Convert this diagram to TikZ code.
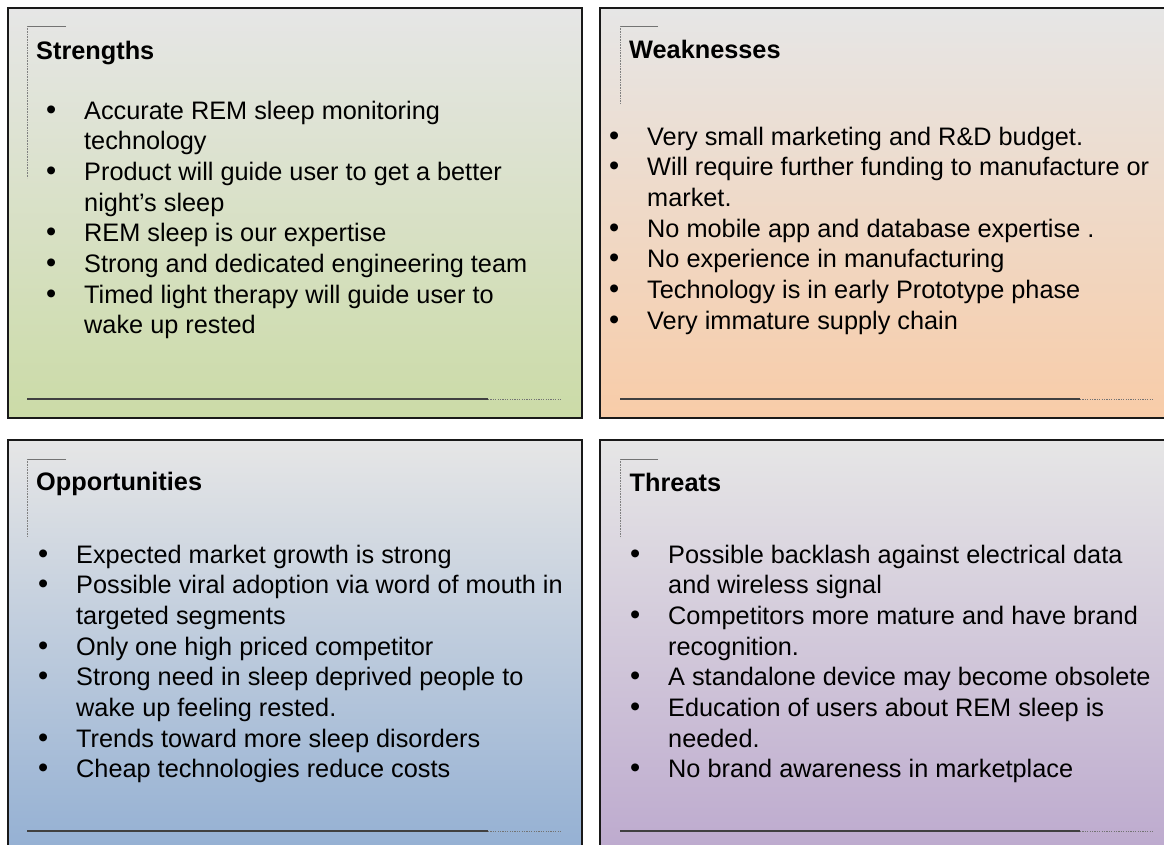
\documentclass[tikz,border=0pt]{standalone}
\usepackage{fontspec}
\setmainfont{Liberation Sans}
\usepackage{tikz}
\definecolor{swotgray}{RGB}{230,230,230}
\definecolor{swotgreen}{RGB}{203,219,167}
\definecolor{swotorange}{RGB}{248,204,168}
\definecolor{swotblue}{RGB}{148,176,211}
\definecolor{swotpurple}{RGB}{189,170,206}
\newcommand{\swotfont}{\fontsize{25.3}{30.7}\selectfont}
\newcommand{\bul}[1]{\begin{tabular}[t]{@{}p{38pt}@{}l@{}}{\fontsize{29}{30.7}\selectfont\textbullet} & #1\end{tabular}}
\tikzstyle{panel} = [draw=black!90, line width=1.4pt, top color=swotgray]
\tikzstyle{heading} = [anchor=base west, inner sep=0pt, font=\swotfont\bfseries]
\tikzstyle{entry} = [anchor=base west, inner sep=0pt, font=\swotfont]
\tikzstyle{bracket} = [draw=black!55, line width=1pt]
\tikzstyle{bracketdots} = [draw=gray, line width=0.8pt, dash pattern=on 0.8pt off 0.8pt]
\tikzstyle{footrule} = [draw=black!75, line width=1.3pt]
\tikzstyle{footdots} = [draw=black!55, line width=1pt, dash pattern=on 1.2pt off 1.2pt]

\begin{document}
\begin{tikzpicture}[x=1pt, y=-1pt]
    \clip (0,0) rectangle (1164,844);

    % Panels
    \draw [panel, bottom color=swotgreen] (8,8) rectangle (582,418);
    \draw [panel, bottom color=swotorange] (600,8) rectangle (1172,418);
    \draw [panel, bottom color=swotblue] (8,440) rectangle (582,852);
    \draw [panel, bottom color=swotpurple] (600,440) rectangle (1172,852);

    % Corner marks
    \draw [bracket] (66,26) -- (27,26);
    \draw [bracketdots] (27,26) -- (27,178);
    \draw [bracket] (658,26) -- (620,26);
    \draw [bracketdots] (620,26) -- (620,103);
    \draw [bracket] (66,459) -- (27,459);
    \draw [bracketdots] (27,459) -- (27,537);
    \draw [bracket] (658,459) -- (620,459);
    \draw [bracketdots] (620,459) -- (620,537);

    % Foot rules
    \draw [footrule] (27,399) -- (488,399);
    \draw [footdots] (488,399) -- (562,399);
    \draw [footrule] (620,399) -- (1080,399);
    \draw [footdots] (1080,399) -- (1154,399);
    \draw [footrule] (27,831) -- (488,831);
    \draw [footdots] (488,831) -- (562,831);
    \draw [footrule] (620,831) -- (1080,831);
    \draw [footdots] (1080,831) -- (1154,831);

    % Strengths
    \node (str) at (36,59) [heading] {Strengths};
    \node (str1) at (46,119) [entry] {\bul{Accurate REM sleep monitoring\\ & technology}};
    \node (str2) at (46,180.4) [entry] {\bul{Product will guide user to get a better\\ & night’s sleep}};
    \node (str3) at (46,241.8) [entry] {\bul{REM sleep is our expertise}};
    \node (str4) at (46,272.5) [entry] {\bul{Strong and dedicated engineering team}};
    \node (str5) at (46,303.2) [entry] {\bul{Timed light therapy will guide user to\\ & wake up rested}};

    % Weaknesses
    \node (weak) at (629,58) [heading] {Weaknesses};
    \node (weak1) at (609,145) [entry] {\bul{Very small marketing and R\&D budget.}};
    \node (weak2) at (609,175.7) [entry] {\bul{Will require further funding to manufacture or\\ & market.}};
    \node (weak3) at (609,237.1) [entry] {\bul{No mobile app and database expertise .}};
    \node (weak4) at (609,267.8) [entry] {\bul{No experience in manufacturing}};
    \node (weak5) at (609,298.5) [entry] {\bul{Technology is in early Prototype phase}};
    \node (weak6) at (609,329.2) [entry] {\bul{Very immature supply chain}};

    % Opportunities
    \node (opp) at (36,490) [heading] {Opportunities};
    \node (opp1) at (38,563) [entry] {\bul{Expected market growth is strong}};
    \node (opp2) at (38,593.7) [entry] {\bul{Possible viral adoption via word of mouth in\\ & targeted segments}};
    \node (opp3) at (38,655.1) [entry] {\bul{Only one high priced competitor}};
    \node (opp4) at (38,685.8) [entry] {\bul{Strong need in sleep deprived people to\\ & wake up feeling rested.}};
    \node (opp5) at (38,747.2) [entry] {\bul{Trends toward more sleep disorders}};
    \node (opp6) at (38,777.9) [entry] {\bul{Cheap technologies reduce costs}};

    % Threats
    \node (thr) at (629.5,491) [heading] {Threats};
    \node (thr1) at (630,563) [entry] {\bul{Possible backlash against electrical data\\ & and wireless signal}};
    \node (thr2) at (630,624.4) [entry] {\bul{Competitors more mature and have brand\\ & recognition.}};
    \node (thr3) at (630,685.8) [entry] {\bul{A standalone device may become obsolete}};
    \node (thr4) at (630,716.5) [entry] {\bul{Education of users about REM sleep is\\ & needed.}};
    \node (thr5) at (630,777.9) [entry] {\bul{No brand awareness in marketplace}};
\end{tikzpicture}
\end{document}
